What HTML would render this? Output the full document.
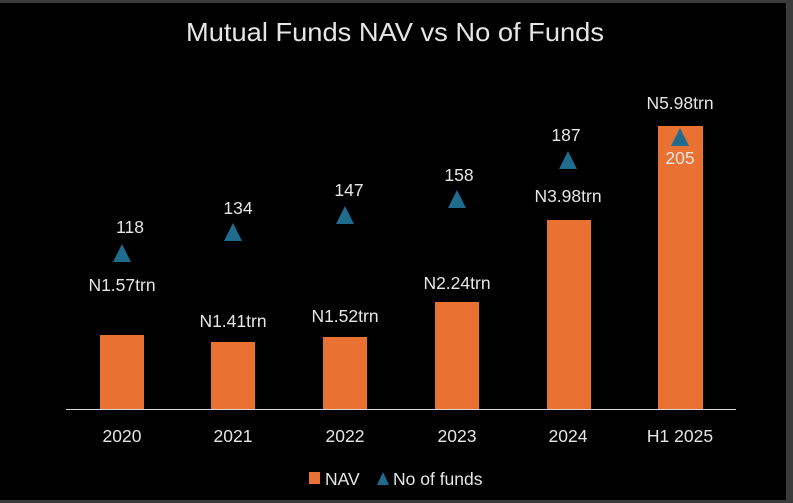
<!DOCTYPE html>
<html><head><style>
body{margin:0;background:#000;}
svg{display:block}
text{font-family:"Liberation Sans",sans-serif;fill:#e6e6e6}
</style></head><body>
<svg width="793" height="503" viewBox="0 0 793 503">
<rect x="0" y="0" width="793" height="503" fill="#3b3b3b"/>
<rect x="0" y="3" width="786" height="497" fill="#000"/>
<text x="395" y="41" font-size="26" text-anchor="middle" textLength="418" lengthAdjust="spacingAndGlyphs" fill="#f2f2f2">Mutual Funds NAV vs No of Funds</text>
<g fill="#e97132">
<rect x="100" y="335" width="44" height="74"/>
<rect x="211" y="342" width="44" height="67"/>
<rect x="323" y="337" width="44" height="72"/>
<rect x="435" y="302" width="44" height="107"/>
<rect x="547" y="220" width="44" height="189"/>
<rect x="658" y="126" width="45" height="283"/>
</g>
<line x1="66" y1="409.5" x2="736" y2="409.5" stroke="#d9d9d9" stroke-width="1"/>
<g fill="#1f6c8f">
<polygon points="122,244 113,262 131,262"/>
<polygon points="233,223 224,241 242,241"/>
<polygon points="345,206 336,224 354,224"/>
<polygon points="457,190 448,208 466,208"/>
<polygon points="568,151 559,169 577,169"/>
<polygon points="680,128 671,146 689,146"/>
</g>
<g font-size="17.5" text-anchor="middle">
<text x="130" y="233">118</text>
<text x="238" y="214">134</text>
<text x="349" y="196">147</text>
<text x="459" y="181">158</text>
<text x="566" y="141">187</text>
<text x="680" y="164" fill="#fff">205</text>
<text x="122" y="291">N1.57trn</text>
<text x="233" y="327">N1.41trn</text>
<text x="345" y="322">N1.52trn</text>
<text x="457" y="289">N2.24trn</text>
<text x="568" y="202">N3.98trn</text>
<text x="680" y="109">N5.98trn</text>
<text x="122" y="442">2020</text>
<text x="233" y="442">2021</text>
<text x="345" y="442">2022</text>
<text x="457" y="442">2023</text>
<text x="568" y="442">2024</text>
<text x="680" y="442">H1 2025</text>
</g>
<rect x="309" y="472" width="11" height="12" fill="#e97132"/>
<text x="325" y="485" font-size="17.5">NAV</text>
<polygon points="383,472 377,485 389,485" fill="#1f6c8f"/>
<text x="393" y="485" font-size="17.5">No of funds</text>
</svg>
</body></html>
